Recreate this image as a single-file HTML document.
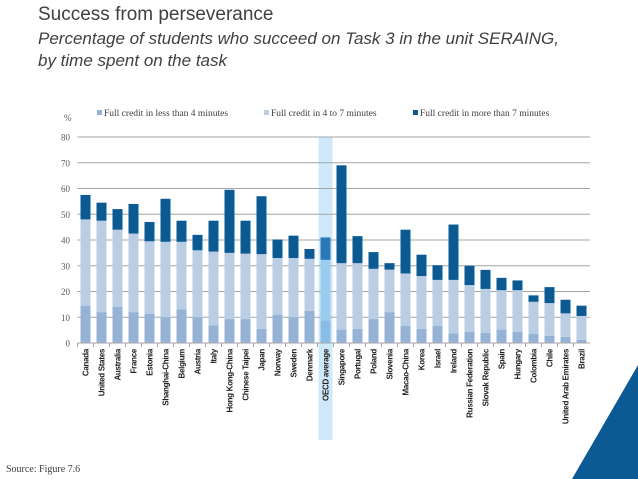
<!DOCTYPE html>
<html><head><meta charset="utf-8"><style>
body{margin:0;width:638px;height:479px;background:#fff;overflow:hidden;font-family:"Liberation Sans",sans-serif;position:relative}
.t1{position:absolute;left:38px;top:4px;font-size:19px;color:#404040}
.t2{position:absolute;left:38px;top:28px;font-size:17px;font-style:italic;color:#404040;line-height:22px}
</style></head><body>
<div class="t1">Success from perseverance</div>
<div class="t2">Percentage of students who succeed on Task 3 in the unit SERAING,<br>by time spent on the task</div>
<svg width="638" height="479" style="position:absolute;left:0;top:0" id="chart">
<polygon points="638,365 638,479 572,479" fill="#0b5a94"/>
<text x="6" y="472" font-family="Liberation Serif" font-size="10" fill="#404040">Source: Figure 7.6</text>
</svg>
<script>
const categories=["Canada","United States","Australia","France","Estonia","Shanghai-China","Belgium","Austria","Italy","Hong Kong-China","Chinese Taipei","Japan","Norway","Sweden","Denmark","OECD average","Singapore","Portugal","Poland","Slovenia","Macao-China","Korea","Israel","Ireland","Russian Federation","Slovak Republic","Spain","Hungary","Colombia","Chile","United Arab Emirates","Brazil"];
const under4=[14.5,12,14,12,11.3,10,13,10,6.8,9.3,9.3,5.5,11,10,12.5,8.7,5.2,5.5,9.3,12,6.6,5.5,6.6,3.8,4.3,3.9,5.2,4.3,3.5,2.8,2.4,1.2];
const from4to7=[33.5,35.5,30,30.5,28.2,29.3,26.3,26,28.7,25.7,25.4,29,22,23,20.2,23.6,25.8,25.5,19.5,16.5,20.4,20.5,17.9,20.7,18.2,17.1,15.3,16.2,12.5,12.7,9.1,9.3];
const over7=[9.5,7,8,11.5,7.5,16.7,8.2,6,12,24.5,12.8,22.5,7.2,8.7,3.8,8.7,38,10.5,6.5,2.5,17,8.3,5.7,21.5,7.5,7.4,4.8,3.8,2.5,6.2,5.3,4];
const yTicks=[0,10,20,30,40,50,60,70,80];
const legendLabels=["Full credit in less than 4 minutes","Full credit in 4 to 7 minutes","Full credit in more than 7 minutes"];
const NS="http://www.w3.org/2000/svg",svg=document.getElementById('chart');
const X0=77.5,BW=16,Y0=343,Y1=137,YMAX=80;
const y=v=>Y0-(v/YMAX)*(Y0-Y1);
const x=i=>X0+i*BW;
function mk(t,a,p){const e=document.createElementNS(NS,t);for(const k in a)e.setAttribute(k,a[k]);(p||svg).appendChild(e);return e;}
const oi=categories.indexOf("OECD average");
let band=mk('rect',{x:x(oi)+1,y:Y1,width:BW-2,height:440-Y1,fill:'#cfe8fa'});


yTicks.forEach(t=>{
 if(t>0){let g=mk('line',{x1:X0,x2:590,y1:y(t),y2:y(t),stroke:'#a6a6a6','stroke-width':1});
 
 }
 let l=mk('text',{x:70,y:y(t)+3.5,'text-anchor':'end','font-size':9,fill:'#595959','font-family':'Liberation Serif'});l.textContent=t;
 
 
});
let pu=mk('text',{x:64,y:121,'font-size':9,fill:'#595959','font-family':'Liberation Serif'});pu.textContent='%';


const cols=['#95b3d7','#b9cde5','#0b5a94'],ocols=['#8abde6','#9ccbf0','#2a78b6'];
categories.forEach((c,i)=>{
 const segs=[under4[i],from4to7[i],over7[i]];let base=0;
 segs.forEach((s,k)=>{
  let r=mk('rect',{x:x(i)+3,y:y(base+s),width:BW-6,height:y(base)-y(base+s),fill:(i===oi?ocols:cols)[k]});
  
  
  base+=s;
 });
 let tl=mk('line',{x1:x(i),x2:x(i),y1:Y0,y2:Y0+4,stroke:'#a6a6a6'});
 
 
 let cx=x(i)+BW/2+3;
 let t=mk('text',{x:cx,y:349,'text-anchor':'end','font-size':8,'font-weight':'bold',fill:'#222',transform:`rotate(-90 ${cx} 349)`,'letter-spacing':'-0.3'});
 t.textContent=c;
 
 
});
let ax=mk('line',{x1:X0,x2:590,y1:Y0,y2:Y0,stroke:'#a6a6a6'});


const lx=[97,264,413];
legendLabels.forEach((s,k)=>{
 let r=mk('rect',{x:lx[k],y:110,width:5,height:5,fill:cols[k]});
 
 
 let t=mk('text',{x:lx[k]+7,y:116,'font-size':9.5,fill:'#404040','font-family':'Liberation Serif'});t.textContent=s;
 
 
});
</script>
</body></html>
